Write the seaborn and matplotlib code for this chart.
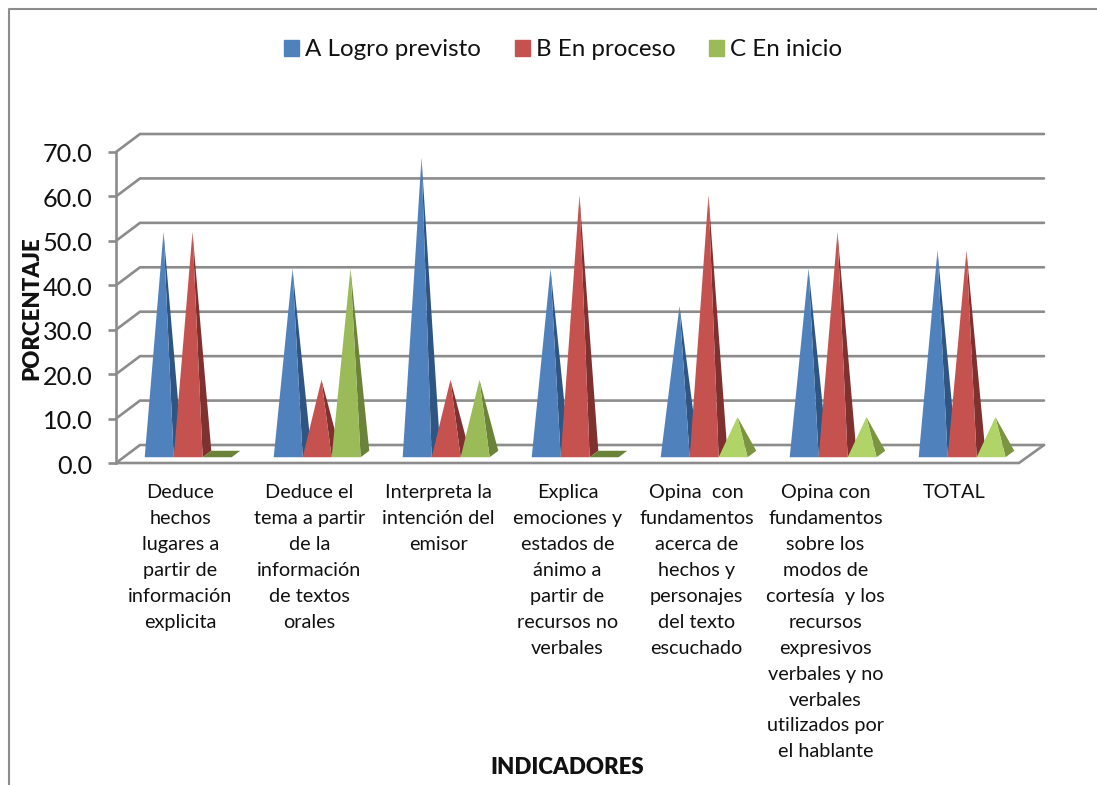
# piramides 3D falsas sobre un barplot de seaborn
import matplotlib
matplotlib.use("Agg")
import matplotlib.pyplot as plt
from matplotlib.lines import Line2D
from matplotlib.patches import Patch
from matplotlib.transforms import ScaledTranslation
import pandas as pd
import seaborn as sns

indicadores = [
    "Deduce\nhechos\nlugares a\npartir de\ninformación\nexplicita",
    "Deduce el\ntema a partir\nde la\ninformación\nde textos\norales",
    "Interpreta la\nintención del\nemisor",
    "Explica\nemociones y\nestados de\nánimo a\npartir de\nrecursos no\nverbales",
    "Opina  con\nfundamentos\nacerca de\nhechos y\npersonajes\ndel texto\nescuchado",
    "Opina con\nfundamentos\nsobre los\nmodos de\ncortesía  y los\nrecursos\nexpresivos\nverbales y no\nverbales\nutilizados por\nel hablante",
    "TOTAL",
]
logro = [50.0, 41.7, 66.7, 41.7, 33.3, 41.7, 45.8]
proceso = [50.0, 16.7, 16.7, 58.3, 58.3, 50.0, 45.8]
inicio = [0.0, 41.7, 16.7, 0.0, 8.3, 8.3, 8.3]
niveles = ["A Logro previsto", "B En proceso", "C En inicio"]
ticks_y = [0, 10, 20, 30, 40, 50, 60, 70]

colores = ["#4F81BD", "#C5524F", "#9BBB59"]
lados = ["#2F5582", "#7F3130", "#6B8339"]
gris = "#8C8C8C"

# profundidad de la caja en unidades de datos
DX = 0.186
DY = 4.05
FRENTE = 0.32
FONDO = 0.68

sns.set_theme(style="white")
plt.rcParams["font.family"] = ["Lato", "DejaVu Sans"]

n = len(indicadores)
df = pd.DataFrame({
    "indicador": list(range(n)) * 3,
    "nivel": [niveles[0]] * n + [niveles[1]] * n + [niveles[2]] * n,
    "valor": logro + proceso + inicio,
})

W, H = 1097, 785
fig = plt.figure(figsize=(W / 100, H / 100), dpi=100)
ax = fig.add_axes([116 / W, 1 - 463 / H, 928 / W, 329 / H])

sns.barplot(data=df, x="indicador", y="valor", hue="nivel", hue_order=niveles,
            palette=colores, saturation=1, width=0.674, gap=0, legend=False,
            errorbar=None, ax=ax)

xmin, xmax = -0.5, 6.5 + DX + 0.008
ax.set_xlim(xmin, xmax)
ax.set_ylim(0, 70 + DY)

# paredes y piso
for v in ticks_y:
    ax.plot([xmin, xmin + DX, xmax], [v, v + DY, v + DY], color=gris, lw=1.9,
            zorder=1, clip_on=False, solid_joinstyle="miter")
ax.plot([xmin, 6.5, xmax], [0, 0, DY], color=gris, lw=1.9, zorder=1, clip_on=False)

# cada barra se cambia por una piramide con la misma posicion y altura
barras = []
for k, cont in enumerate(ax.containers):
    for b in cont:
        barras.append((b.get_x(), b.get_width(), b.get_height(), k))
        b.set_visible(False)
barras.sort()

for z, (x, w, h, k) in enumerate(barras):
    x0 = x + FRENTE * DX
    x1 = x0 + w
    y0 = FRENTE * DY
    x2 = x1 + (FONDO - FRENTE) * DX
    y2 = FONDO * DY
    medio = (FRENTE + FONDO) / 2
    xa = x + w / 2 + medio * DX
    ya = h + medio * DY
    if h == 0:
        ax.fill([x0, x1, x2, x0 + (FONDO - FRENTE) * DX], [y0, y0, y2, y2],
                color=lados[k], lw=0, zorder=3 + z)
        continue
    cara, lado = colores[k], lados[k]
    if k == 2 and h < 10:  # las verdes chicas salen mas claras
        cara, lado = "#B0D468", "#7A9440"
    ax.fill([x1, x2, xa], [y0, y2, ya], color=lado, lw=0, zorder=3 + z)
    ax.fill([x0, x1, xa], [y0, y0, ya], color=cara, lw=0, zorder=3 + z)

sns.despine(ax=ax, bottom=True)
ax.spines["left"].set_color(gris)
ax.spines["left"].set_linewidth(1.9)
ax.spines["left"].set_bounds(0, 70)

ax.set_yticks(ticks_y)
ax.set_yticklabels([f"{v:.1f}" for v in ticks_y], fontsize=18.2, color="#111111")
ax.tick_params(axis="y", length=6, width=1.9, color=gris, pad=11, left=True)
bajar = ScaledTranslation(0, -1 / 100, fig.dpi_scale_trans)
for t in ax.get_yticklabels():
    t.set_transform(t.get_transform() + bajar)
ax.set_xticks(range(n))
ax.set_xticklabels(indicadores, fontsize=14.3, color="#111111", linespacing=1.64)
ax.tick_params(axis="x", length=0, pad=15)
ax.set_xlabel("")
ax.set_ylabel("")

fig.text(32 / W, 1 - 308 / H, "PORCENTAJE", rotation=90, ha="center", va="center",
         fontsize=16, fontweight="heavy", color="#111111")
fig.text(567 / W, 1 - 768 / H, "INDICADORES", ha="center", va="center",
         fontsize=16, fontweight="heavy", color="#111111")

fig.legend(handles=[Patch(color=c, label=t) for c, t in zip(colores, niveles)],
           loc="center", bbox_to_anchor=(563 / W, 1 - 50 / H), ncols=3, frameon=False,
           fontsize=17.4, handlelength=0.62, handleheight=0.62, handletextpad=0.25,
           columnspacing=1.4, labelcolor="#111111")

# marco del grafico
fig.add_artist(Line2D([8.5 / W, 8.5 / W, 1], [0, 1 - 8.5 / H, 1 - 8.5 / H], color=gris, lw=1.5))

fig.savefig("out.png", dpi=100)
